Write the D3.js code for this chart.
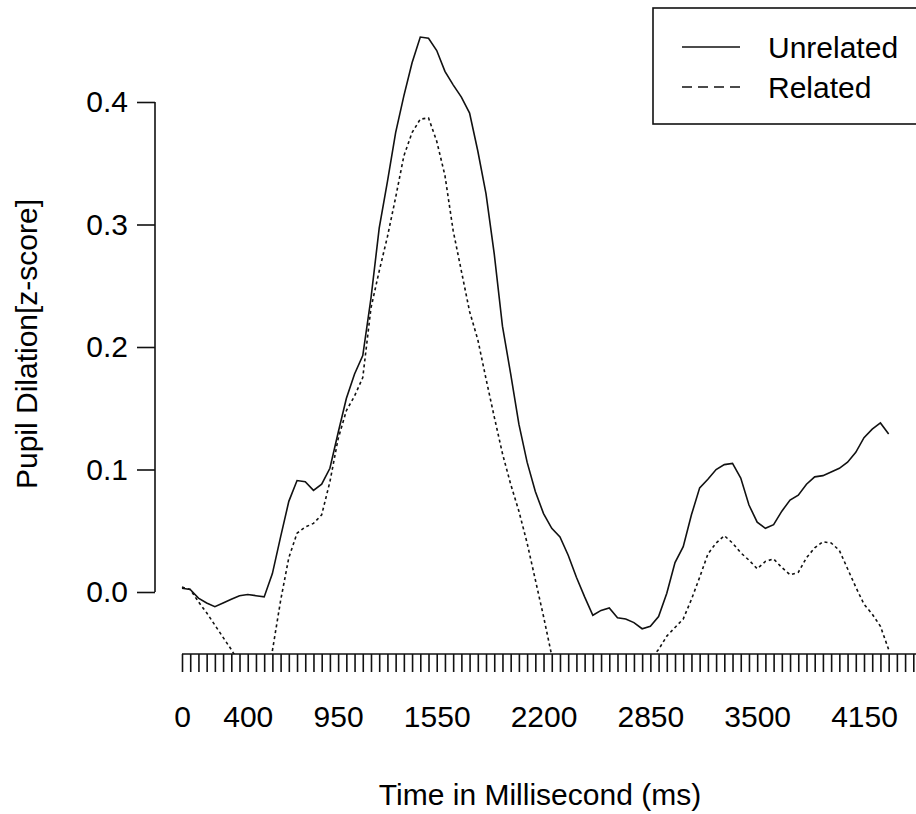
<!DOCTYPE html>
<html>
<head>
<meta charset="utf-8">
<script src="https://cdn.jsdelivr.net/npm/d3@7"></script>
<style>
  html, body { margin: 0; padding: 0; background: #fff; }
  svg { display: block; }
  text { font-family: "Liberation Sans", Arial, sans-serif; fill: #000; }
</style>
</head>
<body>
<script>
// ---- data ----
const timeMs = [0,50,100,150,200,250,300,350,400,450,500,550,600,650,700,750,800,850,900,950,
  1000,1050,1100,1150,1200,1250,1300,1350,1400,1450,1500,1550,1600,1650,1700,1750,1800,1850,1900,1950,
  2000,2050,2100,2150,2200,2250,2300,2350,2400,2450,2500,2550,2600,2650,2700,2750,2800,2850,2900,2950,
  3000,3050,3100,3150,3200,3250,3300,3350,3400,3450,3500,3550,3600,3650,3700,3750,3800,3850,3900,3950,
  4000,4050,4100,4150,4200,4250,4300];

const unrelated = [0.003,0.002,-0.005,-0.009,-0.012,-0.009,-0.006,-0.003,-0.002,-0.003,
  -0.004,0.015,0.045,0.074,0.091,0.090,0.083,0.088,0.101,0.130,
  0.158,0.178,0.193,0.240,0.297,0.335,0.375,0.405,0.432,0.453,
  0.452,0.442,0.425,0.414,0.404,0.391,0.360,0.325,0.276,0.217,
  0.178,0.137,0.106,0.082,0.064,0.052,0.045,0.030,0.012,-0.004,
  -0.019,-0.015,-0.013,-0.021,-0.022,-0.025,-0.030,-0.028,-0.020,-0.001,
  0.024,0.037,0.063,0.085,0.092,0.100,0.104,0.105,0.093,0.071,
  0.057,0.052,0.055,0.066,0.075,0.079,0.088,0.094,0.095,0.098,
  0.101,0.106,0.114,0.126,0.133,0.138,0.129];

const related = [0.004,0.002,-0.008,-0.017,-0.027,-0.037,-0.047,-0.058,-0.068,-0.075,
  -0.070,-0.048,-0.007,0.028,0.048,0.053,0.056,0.063,0.090,0.125,
  0.148,0.160,0.175,0.232,0.262,0.290,0.322,0.356,0.375,0.386,
  0.387,0.368,0.340,0.295,0.262,0.229,0.206,0.174,0.143,0.113,
  0.088,0.066,0.040,0.010,-0.020,-0.052,-0.080,-0.100,-0.115,-0.125,
  -0.130,-0.128,-0.120,-0.110,-0.098,-0.085,-0.065,-0.055,-0.047,-0.036,
  -0.029,-0.022,-0.006,0.012,0.031,0.040,0.046,0.040,0.032,0.026,
  0.019,0.025,0.027,0.020,0.014,0.016,0.028,0.036,0.041,0.040,
  0.034,0.019,0.004,-0.010,-0.018,-0.028,-0.047];

const seriesNames = ["Unrelated", "Related"];
const xTickLabels = [0, 400, 950, 1550, 2200, 2850, 3500, 4150];
const xTickStep = 50;
const xTickMax = 4550;
const yTicks = [0.0, 0.1, 0.2, 0.3, 0.4];

// ---- layout ----
const W = 916, H = 814;
const svg = d3.select("body").append("svg").attr("width", W).attr("height", H);

const x = d3.scaleLinear().domain([0, 4150]).range([182, 864]);
const y = d3.scaleLinear().domain([0, 0.4]).range([592, 102]);
const plotBottom = 654;

svg.append("defs").append("clipPath").attr("id", "plotclip")
  .append("rect").attr("x", 150).attr("y", 0).attr("width", W).attr("height", plotBottom);

const line = d3.line().x((d, i) => x(timeMs[i])).y(d => y(d));

const g = svg.append("g").attr("clip-path", "url(#plotclip)");
g.append("path").datum(unrelated).attr("d", line)
  .attr("fill", "none").attr("stroke", "#111").attr("stroke-width", 1.6);
g.append("path").datum(related).attr("d", line)
  .attr("fill", "none").attr("stroke", "#111").attr("stroke-width", 1.6)
  .attr("stroke-dasharray", "3,3");

// ---- axes ----
const fontSize = 30;
const yAxis = d3.axisLeft(y).tickValues(yTicks).tickFormat(d3.format(".1f"))
  .tickSize(18).tickPadding(9);
const ya = svg.append("g").attr("transform", "translate(155,0)").call(yAxis);
ya.select(".domain").attr("d", `M-0,${y(0)}V${y(0.4)}`).attr("stroke", "#111").attr("stroke-width", 1.6);
ya.selectAll(".tick line").attr("stroke", "#111").attr("stroke-width", 1.6);
ya.selectAll(".tick text").style("font-size", fontSize + "px")
  .style("font-family", '"Liberation Sans", Arial, sans-serif').attr("fill", "#000");

const allTicks = [];
for (let t = 0; t <= xTickMax; t += xTickStep) allTicks.push(t);
const xAxis = d3.axisBottom(x).tickValues(allTicks)
  .tickFormat(d => xTickLabels.includes(d) ? String(d) : "")
  .tickSize(18).tickPadding(34).tickSizeOuter(0);
const xa = svg.append("g").attr("transform", `translate(0,${plotBottom})`).call(xAxis);
xa.select(".domain").attr("d", `M${x(0)},0H${x(xTickMax)}`)
  .attr("stroke", "#111").attr("stroke-width", 1.6);
xa.selectAll(".tick line").attr("stroke", "#111").attr("stroke-width", 1.6);
xa.selectAll(".tick text").style("font-size", fontSize + "px")
  .style("font-family", '"Liberation Sans", Arial, sans-serif').attr("fill", "#000");

// ---- titles ----
svg.append("text").attr("x", 540).attr("y", 805).attr("text-anchor", "middle")
  .style("font-size", fontSize + "px").text("Time in Millisecond (ms)");
svg.append("text").attr("transform", "translate(37,344) rotate(-90)")
  .attr("text-anchor", "middle").style("font-size", fontSize + "px")
  .text("Pupil Dilation[z-score]");

// ---- legend ----
const lg = svg.append("g");
lg.append("rect").attr("x", 653).attr("y", 8).attr("width", 300).attr("height", 116)
  .attr("fill", "#fff").attr("stroke", "#111").attr("stroke-width", 1.6);
const legendRows = [
  { name: seriesNames[0], dash: null, cy: 47 },
  { name: seriesNames[1], dash: "10,6", cy: 87 }
];
legendRows.forEach(r => {
  lg.append("line").attr("x1", 682).attr("x2", 740).attr("y1", r.cy).attr("y2", r.cy)
    .attr("stroke", "#111").attr("stroke-width", 1.6)
    .attr("stroke-dasharray", r.dash);
  lg.append("text").attr("x", 768).attr("y", r.cy).attr("dy", "0.35em")
    .style("font-size", fontSize + "px").text(r.name);
});
</script>
</body>
</html>
